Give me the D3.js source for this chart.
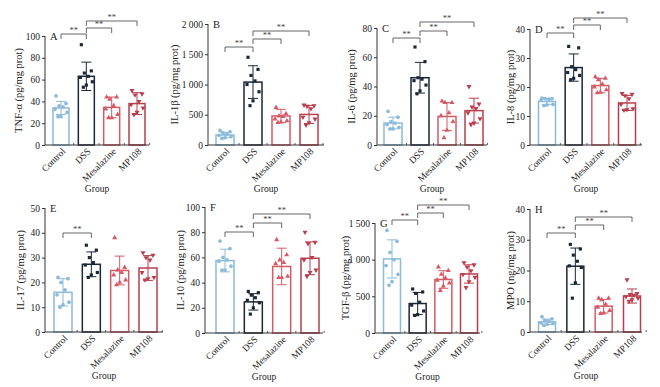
<!DOCTYPE html>
<html>
<head>
<meta charset="utf-8">
<script src="https://cdn.jsdelivr.net/npm/d3@7"></script>
<style>
body { margin: 0; background: #fff; }
svg { display: block; font-family: "Liberation Serif", "DejaVu Serif", serif; }
</style>
</head>
<body>
<svg id="chart" width="660" height="387"></svg>
<script>
// groups shared by all panels
var groups = ["Control", "DSS", "Mesalazine", "MP108"];

// A TNF-a
var tnfMean = [34, 63, 34.5, 38];
var tnfSd = [6, 13, 9.5, 10];
var tnfDots = [[45,38,36,35,33,30,26,26],[92,68,66,63,62,58,55,53],[44,44,42,36,33,28,25,25],[50,47,46,40,37,34,30,28]];
// B IL-1b
var il1bMean = [165, 1040, 480, 505];
var il1bSd = [45, 270, 110, 150];
var il1bDots = [[240,220,200,180,160,140,120,110],[1450,1250,1150,1060,1000,880,730,650],[620,520,480,470,430,400,380,370],[660,650,640,600,460,430,370,330]];
// C IL-6
var il6Mean = [15, 46, 19.5, 23.5];
var il6Sd = [4, 10.5, 9.5, 8.5];
var il6Dots = [[23,19,16,15,14,12,11,11],[67,57,46,45,44,41,37,35],[30,29,29,22,20,16,10,5],[40,28,26,25,22,18,15,14]];
// D IL-8
var il8Mean = [15, 26.7, 20.5, 14.5];
var il8Sd = [1, 4.7, 2.5, 2.6];
var il8Dots = [[16.2,16,16,15.8,15.5,14,13.8,13.6],[34,33.5,27,26,25,24,23,22.5],[23.5,23,22.5,21,20,19,18.2,18],[17.8,17.5,17,16,14,12.5,12.2,12]];
// E IL-17
var il17Mean = [16, 27.3, 24.8, 25.8];
var il17Sd = [5.5, 5, 5.8, 5];
var il17Dots = [[22,21.5,20,17,15,12,11,10],[35,33,30,28,27,24,23,22],[38,26,25,24,23,21,20,19],[32,31,30,29,24,22,21.5,21]];
// F IL-10
var il10Mean = [57.5, 24.7, 52.8, 59.3];
var il10Sd = [9, 6.5, 14.5, 13];
var il10Dots = [[73,67,60,58,57,53,50,50],[33,32,30,28,26,24,20,15],[74,62,58,56,55,45,44,44],[80,72,71,60,58,50,48,45]];
// G TGF-b
var tgfMean = [1010, 402, 730, 805];
var tgfSd = [260, 150, 120, 125];
var tgfDots = [[1400,1250,1100,1000,920,800,700,650],[600,560,540,420,380,300,250,240],[900,850,800,750,720,680,640,580],[960,930,900,850,800,760,700,620]];
// H MPO
var mpoMean = [3.3, 21.4, 8.4, 11.7];
var mpoSd = [0.9, 5.9, 2.2, 2.3];
var mpoDots = [[5,4.3,3.8,3.5,3,2.8,2.5,2.2],[28.5,27,25,23,21.5,21,16,11],[11,11,10.5,9,8,7,6.2,6],[17,12.5,12.2,12,11.5,11,10.5,10]];

var colors = ["#8bbadb", "#1b2636", "#d65a66", "#b83e4e"];
var shapes = [d3.symbolCircle, d3.symbolSquare, d3.symbolTriangle, d3.symbolTriangle];
var jitter = [-5, 5, -2, 2, -6, 6, 0, -3];

var fmt = d3.formatLocale({decimal: ".", thousands: " ", grouping: [3], currency: ["", ""]}).format(",");

var panels = [
  {letter:"A", title:"TNF-α (pg/mg prot)", mean:tnfMean, sd:tnfSd, dots:tnfDots, max:100, step:20,
   ax:45, top:36, bot:145, c0:61, c3:137, end:149, bw:16, tx:18, br:[[0,1,34],[1,2,28],[1,3,21]]},
  {letter:"B", title:"IL-1β (pg/mg prot)", mean:il1bMean, sd:il1bSd, dots:il1bDots, max:2000, step:500,
   ax:208, top:24, bot:145, c0:225, c3:309, end:324, bw:18, tx:174, br:[[0,1,47],[1,2,39],[1,3,31]]},
  {letter:"C", title:"IL-6 (pg/mg prot)", mean:il6Mean, sd:il6Sd, dots:il6Dots, max:80, step:20,
   ax:377, top:28, bot:145, c0:393, c3:474, end:487, bw:18, tx:351, br:[[0,1,38],[1,2,31],[1,3,22]]},
  {letter:"D", title:"IL-8 (pg/mg prot)", mean:il8Mean, sd:il8Sd, dots:il8Dots, max:40, step:10,
   ax:530, top:29, bot:145, c0:547, c3:627, end:642, bw:17, tx:510, br:[[0,1,33],[1,2,25],[1,3,18]]},
  {letter:"E", title:"IL-17 (pg/mg prot)", mean:il17Mean, sd:il17Sd, dots:il17Dots, max:50, step:10,
   ax:45, top:208, bot:332, c0:63, c3:148, end:163, bw:18, tx:20, br:[[0,1,233]]},
  {letter:"F", title:"IL-10 (pg/mg prot)", mean:il10Mean, sd:il10Sd, dots:il10Dots, max:100, step:20,
   ax:205, top:207, bot:333, c0:225, c3:310, end:323, bw:18, tx:180, br:[[0,1,232],[1,2,223],[1,3,214]]},
  {letter:"G", title:"TGF-β (pg/mg prot)", mean:tgfMean, sd:tgfSd, dots:tgfDots, max:1500, step:500,
   ax:375, top:223, bot:333, c0:392, c3:469, end:480, bw:17, tx:345, br:[[0,1,220],[1,2,213],[1,3,205]]},
  {letter:"H", title:"MPO (ng/mg prot)", mean:mpoMean, sd:mpoSd, dots:mpoDots, max:40, step:10,
   ax:530, top:209, bot:332, c0:547, c3:632, end:642, bw:17, tx:510, br:[[0,1,233],[1,2,225],[1,3,217]]}
];

var svg = d3.select("#chart");

panels.forEach(function(p){
  var g = svg.append("g");
  var x = d3.scalePoint().domain(groups).range([p.c0, p.c3]);
  var y = d3.scaleLinear().domain([0, p.max]).range([p.bot, p.top]);

  // bars
  g.selectAll("rect.bar").data(groups).enter().append("rect")
    .attr("x", function(d){ return x(d) - p.bw/2; })
    .attr("y", function(d,i){ return y(p.mean[i]); })
    .attr("width", p.bw)
    .attr("height", function(d,i){ return p.bot - y(p.mean[i]); })
    .attr("fill", "#fff")
    .attr("stroke", function(d,i){ return colors[i]; })
    .attr("stroke-width", 1.5);

  // error bars + dots
  groups.forEach(function(grp, i){
    var cx = x(grp);
    var hi = y(p.mean[i] + p.sd[i]), lo = y(Math.max(0, p.mean[i] - p.sd[i]));
    g.append("line").attr("x1", cx).attr("x2", cx).attr("y1", hi).attr("y2", lo)
      .attr("stroke", colors[i]).attr("stroke-width", 1);
    [hi, lo].forEach(function(yy){
      g.append("line").attr("x1", cx-5).attr("x2", cx+5).attr("y1", yy).attr("y2", yy)
        .attr("stroke", colors[i]).attr("stroke-width", 1);
    });
    p.dots[i].forEach(function(v, k){
      g.append("path")
        .attr("d", d3.symbol().type(shapes[i]).size(i == 1 ? 10 : 11)())
        .attr("transform", "translate(" + (cx + jitter[k]) + "," + y(v) + ")" + (i == 3 ? " rotate(180)" : ""))
        .attr("fill", colors[i]);
    });
  });

  // y axis
  var yAxis = d3.axisLeft(y).tickValues(d3.range(0, p.max + 1, p.step)).tickFormat(fmt).tickSize(3).tickPadding(2);
  var ya = g.append("g").attr("transform", "translate(" + p.ax + ",0)").call(yAxis);
  ya.select(".domain").attr("d", "M0," + p.top + "V" + p.bot).attr("stroke", "#333");
  ya.selectAll(".tick line").attr("stroke", "#333");
  ya.selectAll("text").attr("font-size", 9.5).attr("fill", "#222").attr("font-family", "Liberation Serif");

  // x axis
  g.append("line").attr("x1", p.ax).attr("x2", p.end).attr("y1", p.bot).attr("y2", p.bot)
    .attr("stroke", "#333").attr("stroke-width", 1);
  for (var m = 0; m < 4; m++) {
    var mx = x(groups[m]) + (p.c3 - p.c0) / 6;
    g.append("line").attr("x1", mx).attr("x2", mx).attr("y1", p.bot).attr("y2", p.bot - 2)
      .attr("stroke", "#333").attr("stroke-width", 0.8);
  }
  g.selectAll("text.cat").data(groups).enter().append("text")
    .attr("class", "cat")
    .attr("transform", function(d){ return "translate(" + (x(d) + 5) + "," + (p.bot + 7) + ") rotate(-45)"; })
    .attr("text-anchor", "end")
    .attr("font-size", 9.5)
    .attr("fill", "#222")
    .text(function(d){ return d; });

  g.append("text")
    .attr("x", (p.ax + p.end) / 2).attr("y", p.bot + 47)
    .attr("text-anchor", "middle").attr("font-size", 9.5).attr("fill", "#222")
    .text("Group");

  g.append("text")
    .attr("transform", "translate(" + p.tx + "," + ((p.top + p.bot) / 2) + ") rotate(-90)")
    .attr("text-anchor", "middle").attr("dy", "0.35em").attr("font-size", 10.5).attr("fill", "#222")
    .text(p.title);

  g.append("text")
    .attr("x", p.ax + 5).attr("y", p.top).attr("dy", "0.35em")
    .attr("font-size", 10.5).attr("fill", "#222")
    .text(p.letter);

  // significance brackets
  p.br.forEach(function(b){
    var xa = x(groups[b[0]]), xb = x(groups[b[1]]), yy = b[2];
    g.append("path")
      .attr("d", "M" + xa + "," + (yy + 5) + "V" + yy + "H" + xb + "V" + (yy + 5))
      .attr("fill", "none").attr("stroke", "#555").attr("stroke-width", 0.9);
    g.append("text")
      .attr("x", (xa + xb) / 2).attr("y", yy - 1)
      .attr("text-anchor", "middle").attr("font-size", 8.5).attr("fill", "#444")
      .text("**");
  });
});
</script>
</body>
</html>
